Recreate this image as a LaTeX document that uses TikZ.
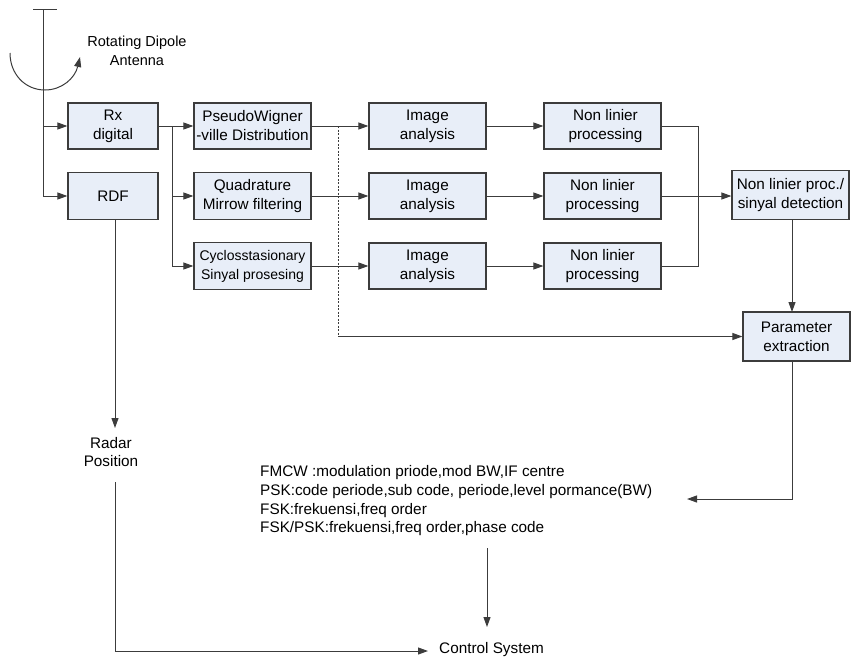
\documentclass[tikz,border=0pt]{standalone}
\usepackage{fontspec}
\setmainfont{Liberation Sans}
\usetikzlibrary{arrows.meta}
\definecolor{boxfill}{RGB}{232,238,248}
\definecolor{linec}{RGB}{60,60,60}
\tikzset{
  blk/.style={draw=linec, line width=1.2pt, fill=boxfill, minimum height=46pt, inner sep=1pt, align=center, font=\fontsize{15.3}{19}\selectfont},
  conn/.style={draw=linec, line width=1pt},
  arr/.style={conn, -{Triangle[length=10pt,width=7pt]}},
  lbl/.style={align=center, inner sep=0pt, font=\fontsize{15.3}{18.5}\selectfont},
}
\begin{document}
\begin{tikzpicture}[x=1pt,y=-1pt]
\useasboundingbox (0,0) rectangle (851,662);
% antenna
\coordinate (anttop) at (43,9);
\coordinate (tl) at (33,9);
\coordinate (tr) at (57,9);
\coordinate (a1) at (43,126);
\coordinate (arcs) at (10,53);
\coordinate (arcm) at (45,90);
\coordinate (arce) at (80,57);
\draw[conn] (tl) -- (tr);
\draw[arr] (arcs) .. controls (10,74) and (25,90) .. (arcm) .. controls (62,90) and (75,78) .. (arce);
\node[lbl, font=\fontsize{14.5}{19}\selectfont] (rot) at (137,51) {Rotating Dipole\\Antenna};

% boxes
\node[blk, minimum width=90pt] (rx) at (113,126) {Rx\\digital};
\node[blk, minimum width=90pt, minimum height=47pt] (rdf) at (113,196) {RDF};
\node[blk, minimum width=117pt] (pwd) at (252.5,126) {PseudoWigner\\-ville Distribution};
\node[blk, minimum width=117pt, minimum height=47pt] (qmf) at (252.5,196) {Quadrature\\Mirrow filtering};
\node[blk, minimum width=117pt, minimum height=47pt] (csp) at (252.5,266) {\fontsize{14}{19}\selectfont Cyclosstasionary\\\fontsize{14}{19}\selectfont Sinyal prosesing};
\node[blk, minimum width=117pt] (ia1) at (427.5,126) {Image\\analysis};
\node[blk, minimum width=117pt] (ia2) at (427.5,196) {Image\\analysis};
\node[blk, minimum width=117pt] (ia3) at (427.5,266) {Image\\analysis};
\node[blk, minimum width=117pt] (nl1) at (602.5,126) {\hspace*{6pt}Non linier\\\hspace*{6pt}processing};
\node[blk, minimum width=117pt] (nl2) at (602.5,196) {Non linier\\processing};
\node[blk, minimum width=117pt] (nl3) at (602.5,266) {Non linier\\processing};
\node[blk, minimum width=117pt, minimum height=49pt] (nlp) at (790.5,195) {Non linier proc./\\sinyal detection};
\node[blk, minimum width=107pt, minimum height=49pt] (par) at (796.5,336.5) {Parameter\\extraction};

% antenna feed
\draw[arr] (anttop) |- (rdf.west);
\draw[arr] (a1) -- (rx.west);

% Rx branches
\coordinate (br) at (172,126);
\draw[arr] (rx.east) -- (pwd.west);
\draw[arr] (br) |- (qmf.west);
\draw[arr] (br) |- (csp.west);

\draw[arr] (pwd.east) -- (ia1.west);
\draw[arr] (qmf.east) -- (ia2.west);
\draw[arr] (csp.east) -- (ia3.west);
\draw[arr] (ia1.east) -- (nl1.west);
\draw[arr] (ia2.east) -- (nl2.west);
\draw[arr] (ia3.east) -- (nl3.west);

% merge
\coordinate (mtop) at (698,126);
\coordinate (mbot) at (698,266);
\coordinate (mmid) at (698,196);
\draw[conn] (nl1.east) -- (mtop) -- (mbot) -- (nl3.east);
\draw[conn] (nl2.east) -- (mmid);
\draw[arr] (mmid) -- (nlp.west |- mmid);

% to parameter extraction
\coordinate (nlpb) at (792,219.5);
\coordinate (parn) at (792,312);
\draw[arr] (nlpb) -- (parn);
\coordinate (d1) at (338,126);
\coordinate (d2) at (338,336.5);
\draw[conn, line width=0.9pt, dash pattern=on 2pt off 1.5pt] (d1) -- (d2);
\draw[arr] (d2) -- (par.west);

% parameter list
\node[inner sep=0pt, anchor=north west, align=left, font=\fontsize{15.3}{18.7}\selectfont] (list) at (260,465.5)
 {FMCW :modulation priode,mod BW,IF centre\\
  PSK:code periode,sub code, periode,level pormance(BW)\\
  FSK:frekuensi,freq order\\
  FSK/PSK:frekuensi,freq order,phase code};
\coordinate (parb) at (792,361);
\coordinate (lin) at (687,499);
\draw[arr] (parb) |- (lin);

% radar position
\node[lbl] (radar) at (111,452) {Radar\\Position};
\coordinate (rdfb) at (115,219.5);
\coordinate (radn) at (115,428);
\draw[arr] (rdfb) -- (radn);
\coordinate (rads) at (115,482);

% control system
\node[inner sep=0pt, anchor=west, font=\fontsize{15.3}{18.5}\selectfont] (ctrl) at (439,650) {Control System};
\coordinate (cw) at (428,651);
\draw[arr] (rads) |- (cw);
\coordinate (l1) at (487,548);
\coordinate (l2) at (487,627);
\draw[arr] (l1) -- (l2);
\end{tikzpicture}
\end{document}
